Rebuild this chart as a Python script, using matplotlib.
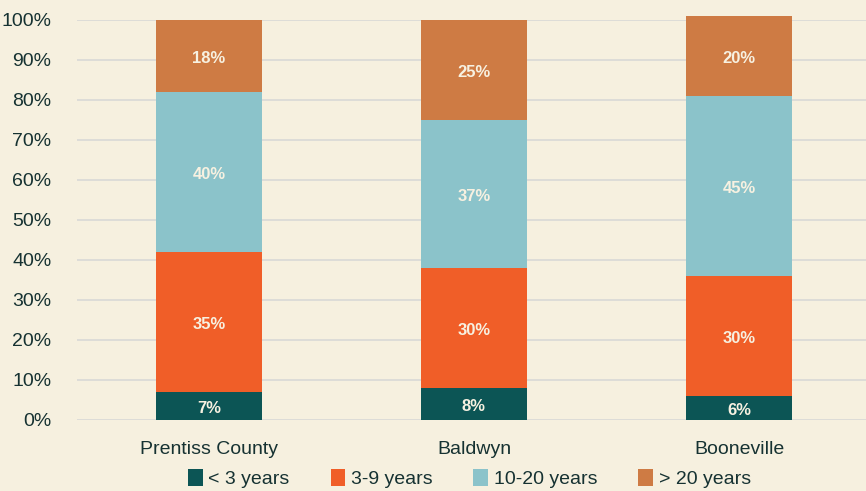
import matplotlib
matplotlib.use("Agg")
import matplotlib.pyplot as plt
import numpy as np

categories = ["Prentiss County", "Baldwyn", "Booneville"]
series_names = ["< 3 years", "3-9 years", "10-20 years", "> 20 years"]
lt3 = [7, 8, 6]
y3_9 = [35, 30, 30]
y10_20 = [40, 37, 45]
gt20 = [18, 25, 20]
yticks = [0, 10, 20, 30, 40, 50, 60, 70, 80, 90, 100]

colors = ["#0C5555", "#F05E28", "#8BC3CA", "#CE7B44"]
bg = "#F6F0DF"
textc = "#163232"

plt.rcParams["font.family"] = ["Liberation Sans", "DejaVu Sans"]

fig = plt.figure(figsize=(8.66, 4.91), dpi=100, facecolor=bg)
ax = fig.add_axes([76.5 / 866, 71 / 491, 795 / 866, 400 / 491])
ax.set_facecolor(bg)

x = np.arange(len(categories))
data = [lt3, y3_9, y10_20, gt20]
bottom = np.zeros(len(categories))
for vals, c, name in zip(data, colors, series_names):
    v = np.array(vals, dtype=float)
    ax.bar(x, v, 0.4, bottom=bottom, color=c, label=name, clip_on=False, zorder=3)
    for xi, b, vi in zip(x, bottom, v):
        ax.text(xi, b + vi / 2 - 0.6, f"{int(vi)}%", ha="center", va="center",
                color="#F7F1E1", fontsize=12, fontweight="bold", zorder=4)
    bottom += v

ax.set_xlim(-0.5, 2.5)
ax.set_ylim(0, 100)
ax.set_yticks(yticks)
ax.set_yticklabels([f"{t}%" for t in yticks])
ax.set_xticks(x)
ax.set_xticklabels(categories)
ax.tick_params(axis="both", length=0, labelsize=14, colors=textc)
ax.tick_params(axis="y", pad=18)
ax.tick_params(axis="x", pad=15)
ax.yaxis.grid(True, color="#D9D9D6", linewidth=1.2, zorder=0)
ax.set_axisbelow(True)
for s in ax.spines.values():
    s.set_visible(False)

leg = fig.legend(loc="center", bbox_to_anchor=(0.542, 0.026), ncol=4, frameon=False,
                 fontsize=14, handlelength=0.75, handleheight=1.0, handletextpad=0.3,
                 columnspacing=2.1, labelcolor=textc)

fig.savefig("out.png", dpi=100, facecolor=bg)
